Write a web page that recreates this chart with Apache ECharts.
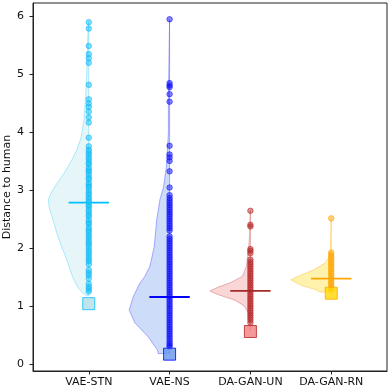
<!DOCTYPE html>
<html>
<head>
<meta charset="utf-8">
<script src="https://cdn.jsdelivr.net/npm/echarts@6/dist/echarts.min.js"></script>
<style>html,body{margin:0;padding:0;background:#fff}#c{width:390px;height:390px}</style>
</head>
<body>
<div id="c"></div>
<script>
// ---- data ----
const categories = ['VAE-STN', 'VAE-NS', 'DA-GAN-UN', 'DA-GAN-RN'];
const yTicks = [0, 1, 2, 3, 4, 5, 6];

// individual distance values (points)
const pointsSTN = [5.89, 5.78, 5.48, 5.34, 5.27, 5.19, 4.81, 4.56, 4.49, 4.43, 4.35, 4.25, 4.16, 3.90, 3.75, 3.69,
  3.65, 3.61, 3.56, 3.52, 3.47, 3.44, 3.38, 3.34, 3.31, 3.26, 3.21, 3.18, 3.12, 3.08, 3.05, 3.00, 2.95, 2.92, 2.87,
  2.83, 2.79, 2.74, 2.71, 2.66, 2.62, 2.57, 2.54, 2.48, 2.44, 2.41, 2.35, 2.31, 2.27, 2.22, 2.18, 2.13, 2.09, 2.05,
  2.00, 1.95, 1.91, 1.86, 1.81, 1.77, 1.72, 1.62, 1.57, 1.53, 1.47, 1.38, 1.33, 1.29, 1.25];
const pointsNS = [5.94, 4.84, 4.80, 4.77, 4.65, 4.52, 3.76, 3.61, 3.56, 3.50, 3.32, 3.04, 2.91, 2.86,
  2.82, 2.78, 2.74, 2.70, 2.66, 2.62, 2.58, 2.54, 2.50, 2.46, 2.42, 2.38, 2.34, 2.30, 2.20, 2.16, 2.12, 2.08,
  2.04, 2.00, 1.96, 1.92, 1.88, 1.84, 1.80, 1.76, 1.72, 1.68, 1.64, 1.60, 1.56, 1.52, 1.48, 1.44, 1.40, 1.36,
  1.32, 1.28, 1.24, 1.20, 1.16, 1.12, 1.08, 1.04, 1.00, 0.96, 0.92, 0.88, 0.84, 0.80, 0.76, 0.72, 0.68, 0.64,
  0.60, 0.56, 0.52, 0.48, 0.44, 0.40, 0.36, 0.33, 0.30];
const pointsUN = [2.64, 2.40, 2.37, 1.98, 1.95, 1.91, 1.80, 1.76, 1.72, 1.68, 1.64, 1.60, 1.56, 1.52, 1.48,
  1.44, 1.40, 1.36, 1.32, 1.28, 1.24, 1.20, 1.16, 1.12, 1.08, 1.04, 1.00, 0.96, 0.92, 0.88, 0.84, 0.80, 0.76, 0.71];
const pointsRN = [2.51, 1.92, 1.88, 1.84, 1.80, 1.76, 1.72, 1.68, 1.64, 1.60, 1.56, 1.52, 1.48, 1.44, 1.40,
  1.36, 1.32, 1.28];

// mean values (horizontal bars)
const means = [2.78, 1.155, 1.26, 1.47];
// square markers
const squares = [1.04, 0.17, 0.56, 1.22];

// violin density profiles [value, relative density]
const violinSTN = [[5.9, 0.01], [5.5, 0.03], [5.0, 0.05], [4.6, 0.08], [4.2, 0.12], [3.9, 0.19], [3.7, 0.29],
  [3.5, 0.43], [3.3, 0.6], [3.1, 0.8], [2.95, 0.93], [2.83, 1.0], [2.7, 0.98], [2.54, 0.91], [2.35, 0.83],
  [2.19, 0.76], [2.0, 0.66], [1.79, 0.54], [1.6, 0.45], [1.45, 0.37], [1.3, 0.25], [1.22, 0.14], [1.18, 0.05]];
const violinNS = [[5.93, 0.0], [5.5, 0.01], [5.0, 0.02], [4.55, 0.03], [3.98, 0.03], [3.4, 0.08], [3.05, 0.15],
  [2.83, 0.24], [2.48, 0.32], [2.02, 0.38], [1.68, 0.49], [1.5, 0.62], [1.4, 0.73], [1.16, 0.9], [0.93, 1.0],
  [0.71, 0.86], [0.47, 0.53], [0.24, 0.3], [0.18, 0.28]];
const violinUN = [[2.64, 0.005], [2.2, 0.02], [1.97, 0.05], [1.68, 0.1], [1.51, 0.2], [1.4, 0.5], [1.33, 0.78],
  [1.26, 1.0], [1.2, 0.82], [1.15, 0.6], [1.1, 0.38], [1.0, 0.15], [0.87, 0.05], [0.64, 0.01], [0.57, 0.0]];
const violinRN = [[2.51, 0.005], [2.2, 0.01], [1.97, 0.025], [1.85, 0.05], [1.74, 0.15], [1.62, 0.44],
  [1.53, 0.76], [1.45, 1.0], [1.36, 0.76], [1.28, 0.38], [1.24, 0.28]];

// ---- styles ----
const pointSets = [pointsSTN, pointsNS, pointsUN, pointsRN];
const violins = [violinSTN, violinNS, violinUN, violinRN];
const pointFill = ['rgba(0,191,255,0.6)', 'rgba(0,0,255,0.6)', 'rgba(178,34,34,0.6)', 'rgba(255,165,0,0.6)'];
const pointEdge = ['#1ab8f0', '#1f1fff', '#b83030', '#ffa500'];
const violinFill = ['rgba(176,224,230,0.32)', 'rgba(100,149,237,0.32)', 'rgba(240,128,128,0.32)', 'rgba(255,215,0,0.32)'];
const violinEdge = ['rgba(0,191,255,0.3)', 'rgba(0,0,255,0.3)', 'rgba(178,34,34,0.3)', 'rgba(255,165,0,0.35)'];
const meanColor = ['#00bfff', '#0000ff', '#a52a2a', '#ffa500'];
const squareFill = ['#b0dde5', '#6495ed', '#f08080', '#ffd700'];
const squareEdge = ['#00bfff', '#0000ff', '#b22222', '#ffa500'];

const HALF = 0.5;   // max half-width of violins (x units)
const MEAN_HALF = 0.25;

const series = [];
// violins
series.push({
  type: 'custom',
  data: categories.map((c, i) => [i]),
  renderItem: function (params, api) {
    const gi = api.value(0);
    const prof = violins[gi];
    const pts = prof.map(p => api.coord([gi - p[1] * HALF, p[0]]));
    pts.push(api.coord([gi, prof[prof.length - 1][0]]));
    pts.push(api.coord([gi, prof[0][0]]));
    return {
      type: 'polygon',
      shape: { points: pts },
      style: { fill: violinFill[gi], stroke: violinEdge[gi], lineWidth: 1 }
    };
  },
  z: 1, silent: true
});
// points
pointSets.forEach((arr, gi) => {
  series.push({
    type: 'scatter',
    data: arr.map(v => [gi, v]),
    symbol: 'circle',
    symbolSize: 5.5,
    itemStyle: { color: pointFill[gi], borderColor: pointEdge[gi], borderWidth: 0.8 },
    z: 2, silent: true
  });
});
// mean lines
series.push({
  type: 'custom',
  data: means.map((m, i) => [i, m]),
  renderItem: function (params, api) {
    const gi = api.value(0), m = api.value(1);
    const a = api.coord([gi - MEAN_HALF, m]);
    const b = api.coord([gi + MEAN_HALF, m]);
    return {
      type: 'line',
      shape: { x1: a[0], y1: a[1], x2: b[0], y2: b[1] },
      style: { stroke: meanColor[gi], lineWidth: 1.8 }
    };
  },
  z: 3, silent: true
});
// squares
squares.forEach((v, gi) => {
  series.push({
    type: 'scatter',
    data: [[gi, v]],
    symbol: 'rect',
    symbolSize: 12,
    itemStyle: { color: squareFill[gi], borderColor: squareEdge[gi], borderWidth: 1 },
    z: 4, silent: true
  });
});

const chart = echarts.init(document.getElementById('c'), null, { renderer: 'canvas' });
const font = 'DejaVu Sans';
chart.setOption({
  animation: false,
  backgroundColor: '#fff',
  grid: { left: 33, right: 3, top: 3, bottom: 19, outerBoundsMode: 'none', containLabel: false,
    show: true, borderColor: '#222', borderWidth: 1, backgroundColor: 'transparent' },
  xAxis: {
    type: 'value', min: -0.69, max: 3.69,
    splitLine: { show: false },
    axisLine: { show: true, onZero: false, lineStyle: { color: '#222', width: 1 } },
    axisTick: { show: true, length: 3.5, lineStyle: { color: '#222' }, customValues: [0, 1, 2, 3] },
    axisLabel: { customValues: [0, 1, 2, 3], formatter: v => categories[Math.round(v)] || '',
      color: '#111', fontFamily: font, fontSize: 11, margin: 6 }
  },
  yAxis: {
    type: 'value', min: -0.12, max: 6.22,
    name: 'Distance to human', nameLocation: 'middle', nameGap: 20, nameMoveOverlap: false,
    nameTextStyle: { fontFamily: font, fontSize: 11, color: '#111' },
    splitLine: { show: false },
    axisLine: { show: true, onZero: false, lineStyle: { color: '#222', width: 1 } },
    axisTick: { show: true, length: 3.5, lineStyle: { color: '#222' }, customValues: yTicks },
    axisLabel: { customValues: yTicks, color: '#111', fontFamily: font, fontSize: 11, margin: 9 }
  },
  series: series
});
</script>
</body>
</html>
